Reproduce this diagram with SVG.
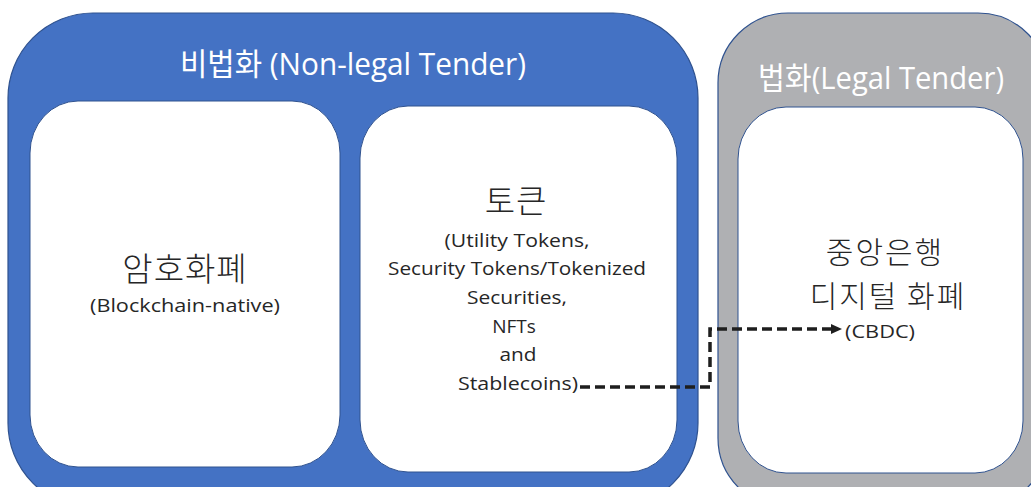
<svg xmlns="http://www.w3.org/2000/svg" width="1031" height="487" viewBox="0 0 1031 487">
  <style>
    .frame { stroke: #2F528F; stroke-width: 1.2; }
    .blue { fill: #4472C4; }
    .gray { fill: #AFB0B3; }
    .card { fill: #FFFFFF; stroke: #2F528F; stroke-width: 1; }
    .title { font-family: "Open Sans", "Noto Sans CJK KR", sans-serif; fill: #FFFFFF; font-size: 31px; }
    .kr { font-family: "Noto Sans CJK KR", "Open Sans", sans-serif; font-weight: 300; fill: #262626; font-size: 33px; }
    .kr-sm { font-size: 30px; letter-spacing: 2px; }
    .sub { font-family: "Open Sans", "Noto Sans CJK KR", sans-serif; fill: #262626; font-size: 19px; text-anchor: middle; }
    .link { fill: none; stroke: #1E1E1E; stroke-width: 3.5; stroke-dasharray: 10 5; }
  </style>

  <!-- Non-legal tender group -->
  <g id="non-legal-tender">
    <rect class="blue frame" x="8" y="13" width="690" height="495" rx="85" ry="85"/>
    <text class="title" x="353" y="75" text-anchor="middle" textLength="346" lengthAdjust="spacingAndGlyphs">비법화 (Non-legal Tender)</text>
  </g>

  <!-- Crypto-assets -->
  <g id="crypto">
    <rect class="card" x="30" y="101" width="310" height="366" rx="48" ry="52"/>
    <text class="kr" x="185" y="281" text-anchor="middle" letter-spacing="1">암호화폐</text>
    <text class="sub" x="185" y="312" textLength="190" lengthAdjust="spacingAndGlyphs">(Blockchain-native)</text>
  </g>

  <!-- Tokens -->
  <g id="tokens">
    <rect class="card" x="360" y="106" width="317" height="366" rx="48" ry="52"/>
    <text class="kr" x="516" y="213" text-anchor="middle" letter-spacing="1">토큰</text>
    <text class="sub" x="517" y="247" textLength="145" lengthAdjust="spacingAndGlyphs">(Utility Tokens,</text>
    <text class="sub" x="517" y="275" textLength="258" lengthAdjust="spacingAndGlyphs">Security Tokens/Tokenized</text>
    <text class="sub" x="517" y="304" textLength="100" lengthAdjust="spacingAndGlyphs">Securities,</text>
    <text class="sub" x="514" y="333">NFTs</text>
    <text class="sub" x="518" y="361" textLength="37" lengthAdjust="spacingAndGlyphs">and</text>
    <text class="sub" x="518" y="390" textLength="120" lengthAdjust="spacingAndGlyphs">Stablecoins)</text>
  </g>

  <!-- Legal tender group -->
  <g id="legal-tender">
    <rect class="gray frame" x="718" y="13" width="330" height="495" rx="70" ry="70"/>
    <text class="title" x="881" y="89" text-anchor="middle" textLength="246" lengthAdjust="spacingAndGlyphs">법화(Legal Tender)</text>
  </g>

  <!-- CBDC -->
  <g id="cbdc">
    <rect class="card" x="738" y="107" width="285" height="366" rx="48" ry="52"/>
    <text class="kr kr-sm" x="885" y="263" text-anchor="middle">중앙은행</text>
    <text class="kr kr-sm" x="888" y="307" text-anchor="middle">디지털 화폐</text>
    <text class="sub" x="880" y="338" textLength="70" lengthAdjust="spacingAndGlyphs">(CBDC)</text>
  </g>

  <!-- Connectors -->
  <g id="connectors">
    <path class="link" d="M580,387 H710 V329 H832"/>
    <path d="M831,324 L842,329 L831,334 z" fill="#1E1E1E"/>
  </g>
</svg>
